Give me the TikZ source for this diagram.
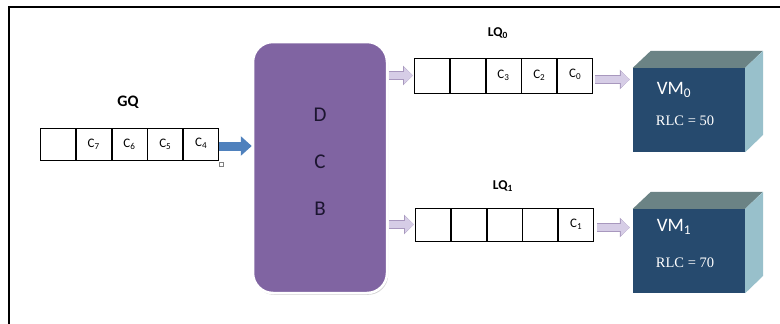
\documentclass[tikz,border=0pt]{standalone}
\usepackage{fontspec}
\setmainfont{Carlito}
\newfontfamily\rlcfont{Liberation Serif}
\usetikzlibrary{arrows.meta,shadows,calc}

\definecolor{dcbfill}{HTML}{8064A2}
\definecolor{dcbtext}{HTML}{1C1530}
\definecolor{gqblue}{HTML}{4F81BD}
\definecolor{lavfill}{HTML}{D6CDE6}
\definecolor{lavedge}{HTML}{A898BE}
\definecolor{vmfront}{HTML}{264A6E}
\definecolor{vmtop}{HTML}{6B8385}
\definecolor{vmside}{HTML}{98C0CB}

\tikzset{
  cell/.style={draw, line width=0.8pt, minimum width=35pt, minimum height=#1,
    inner sep=0pt, anchor=west, font=\fontsize{13}{13}\selectfont},
  cell/.default=33pt,
  qlabel/.style={font=\bfseries\fontsize{13.5}{13.5}\selectfont},
  bluearrow/.style={draw=gqblue, line width=9pt,
    -{Triangle[length=11pt,width=19pt]}},
  lavarrow/.style={draw=lavfill, line width=7pt,
    -{Triangle[length=9pt,width=16pt]},
    preaction={draw=lavedge, line width=9pt,
      -{Triangle[length=10pt,width=19pt]}}},
  vmbox/.style={fill=vmfront, minimum width=112pt, minimum height=84pt,
    inner sep=0pt},
  vmname/.style={text=white, font=\fontsize{19}{19}\selectfont},
  vmrlc/.style={text=white, font=\rlcfont\fontsize{14.5}{14.5}\selectfont},
}

\begin{document}
\begin{tikzpicture}[x=1pt,y=-1pt]
\useasboundingbox (0,0) rectangle (780,324);

% frame
\draw[line width=1.6pt] (9,324) coordinate (fl) -- (9,7) coordinate (fc) -- (780,7) coordinate (fr);

% dispatcher block
\node[rounded corners=20pt, fill=dcbfill, draw=white, line width=2.5pt,
      minimum width=134pt, minimum height=251pt, inner sep=0pt,
      drop shadow={shadow xshift=1.2pt, shadow yshift=-1.8pt, opacity=0.35}]
      (dcb) at (320,167.5) {};
\node[text=dcbtext, align=center, font=\fontsize{21}{47}\selectfont]
      (dcbtxt) at ([yshift=6pt]dcb.center) {D\\C\\B};

% global queue
\node[font=\bfseries\fontsize{16}{16}\selectfont] (gqlab) at (128,102) {GQ};
\node[cell=32pt] (gq1) at (40,144) {};
\node[cell=32pt] (gq2) at (gq1.east) {C\textsubscript{7}};
\node[cell=32pt] (gq3) at (gq2.east) {C\textsubscript{6}};
\node[cell=32pt] (gq4) at (gq3.east) {C\textsubscript{5}};
\node[cell=32pt] (gq5) at (gq4.east) {\raisebox{4pt}{C\textsubscript{4}}};
\node[draw=gray, line width=0.5pt, minimum size=4.5pt, inner sep=0pt]
      (handle) at ([xshift=2pt,yshift=-4pt]gq5.south east) {};

% local queue 0
\node[qlabel] (lq0lab) at (498,33) {LQ\textsubscript{0}};
\node[cell=35pt] (lq01) at (414,75.5) {};
\node[cell=35pt] (lq02) at (lq01.east) {};
\node[cell=35pt] (lq03) at (lq02.east) {C\textsubscript{3}};
\node[cell=35pt] (lq04) at (lq03.east) {C\textsubscript{2}};
\node[cell=35pt] (lq05) at (lq04.east) {\raisebox{4pt}{C\textsubscript{0}}};

% local queue 1
\node[qlabel] (lq1lab) at (503,186) {LQ\textsubscript{1}};
\node[cell=33pt] (lq11) at (415,224.5) {};
\node[cell=33pt] (lq12) at (lq11.east) {};
\node[cell=33pt] (lq13) at (lq12.east) {};
\node[cell=33pt] (lq14) at (lq13.east) {};
\node[cell=33pt] (lq15) at (lq14.east) {\raisebox{2pt}{C\textsubscript{1}}};

% virtual machines
\node[vmbox] (vm0) at (689,110) {};
\fill[vmtop] (vm0.north west) -- ++(18,-17) -- ++(112,0) -- (vm0.north east) -- cycle;
\fill[vmside] (vm0.north east) -- ++(18,-17) -- ++(0,84) -- (vm0.south east) -- cycle;
\node[vmname] (vm0name) at ([xshift=-15pt,yshift=20pt]vm0.center) {VM\textsubscript{0}};
\node[vmrlc] (vm0rlc) at ([xshift=-4pt,yshift=-11pt]vm0.center) {RLC = 50};

\node[vmbox] (vm1) at (689,251) {};
\fill[vmtop] (vm1.north west) -- ++(18,-17) -- ++(112,0) -- (vm1.north east) -- cycle;
\fill[vmside] (vm1.north east) -- ++(18,-17) -- ++(0,84) -- (vm1.south east) -- cycle;
\node[vmname] (vm1name) at ([xshift=-15pt,yshift=24pt]vm1.center) {VM\textsubscript{1}};
\node[vmrlc] (vm1rlc) at ([xshift=-4pt,yshift=-12pt]vm1.center) {RLC = 70};

% connectors
\draw[bluearrow] ([yshift=-2pt]gq5.east) -- ([yshift=-2pt]gq5.east -| dcb.west);
\draw[lavarrow] ([xshift=1pt]dcb.east |- lq01.west) -- ([xshift=-1pt]lq01.west);
\draw[lavarrow] ([xshift=1pt]dcb.east |- lq11.west) -- ([xshift=-1pt]lq11.west);
\draw[lavarrow] ([xshift=2pt,yshift=-4pt]lq05.east) -- ([xshift=-3pt,yshift=-4pt]lq05.east -| vm0.west);
\draw[lavarrow] ([xshift=3pt,yshift=-3pt]lq15.east) -- ([xshift=-3pt,yshift=-3pt]lq15.east -| vm1.west);
\end{tikzpicture}
\end{document}
